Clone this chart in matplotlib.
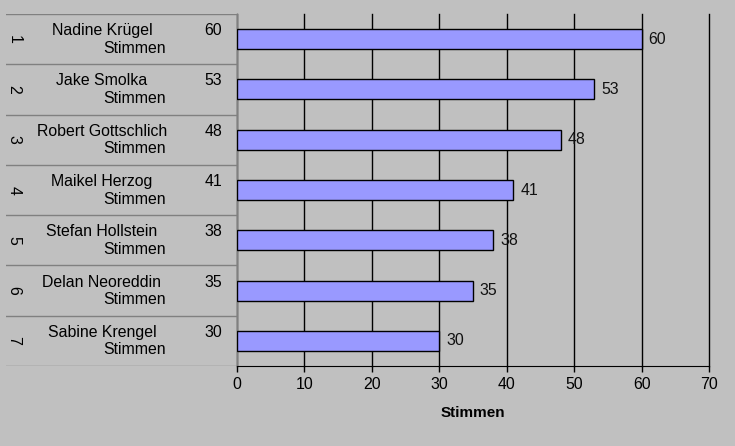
import matplotlib.pyplot as plt

plt.rcParams['font.family'] = ['Liberation Sans', 'DejaVu Sans']

# Data
ranks = ['1', '2', '3', '4', '5', '6', '7']
names = ['Nadine Krügel', 'Jake Smolka', 'Robert Gottschlich', 'Maikel Herzog',
         'Stefan Hollstein', 'Delan Neoreddin', 'Sabine Krengel']
votes = [60, 53, 48, 41, 38, 35, 30]
unit = 'Stimmen'
xticks = [0, 10, 20, 30, 40, 50, 60, 70]

bg = '#c0c0c0'
fs = 11.4
W, H = 735, 446
fig = plt.figure(figsize=(W / 100, H / 100), dpi=100, facecolor=bg)
ax = fig.add_axes([237 / W, 80 / H, (709 - 237) / W, (366 - 14) / H])
ax.set_facecolor(bg)

n = len(names)
pos = list(range(n))
ax.barh(pos, votes, height=0.4, color='#9999ff', edgecolor='black', linewidth=1, zorder=3)
for p, v in zip(pos, votes):
    ax.text(v + 1.0, p, str(v), va='center', ha='left', fontsize=fs, color='#111111')

ax.set_ylim(n - 0.5, -0.5)
ax.set_xlim(0, 70)
ax.set_xticks(xticks)
ax.xaxis.grid(True, color='black', linewidth=1, zorder=0)
for gl in ax.get_xgridlines():
    gl.set_clip_on(False)
ax.set_yticks([])
for s in ['top', 'right']:
    ax.spines[s].set_visible(False)
ax.spines['left'].set_color('#808080')
ax.spines['bottom'].set_color('black')
ax.tick_params(axis='x', length=4, width=1, labelsize=fs, pad=4, colors='black')
ax.set_xlabel(unit, fontsize=11, fontweight='bold', labelpad=10)

# table-like category labels on the left
tb = fig.add_axes([6 / W, 80 / H, (237 - 6) / W, (366 - 14) / H])
tb.set_xlim(6, 237)
tb.set_ylim(n - 0.5, -0.5)
tb.axis('off')
for k in range(n + 1):
    tb.axhline(k - 0.5, color='#808080', linewidth=1)
for p, r, name, v in zip(pos, ranks, names, votes):
    tb.text(14, p, r, rotation=270, ha='center', va='center', fontsize=fs)
    tb.text(102, p - 0.17, name, ha='center', va='center', fontsize=fs)
    tb.text(222, p - 0.17, str(v), ha='right', va='center', fontsize=fs)
    tb.text(135, p + 0.18, unit, ha='center', va='center', fontsize=fs)

fig.savefig('out.png', dpi=100, facecolor=bg)
